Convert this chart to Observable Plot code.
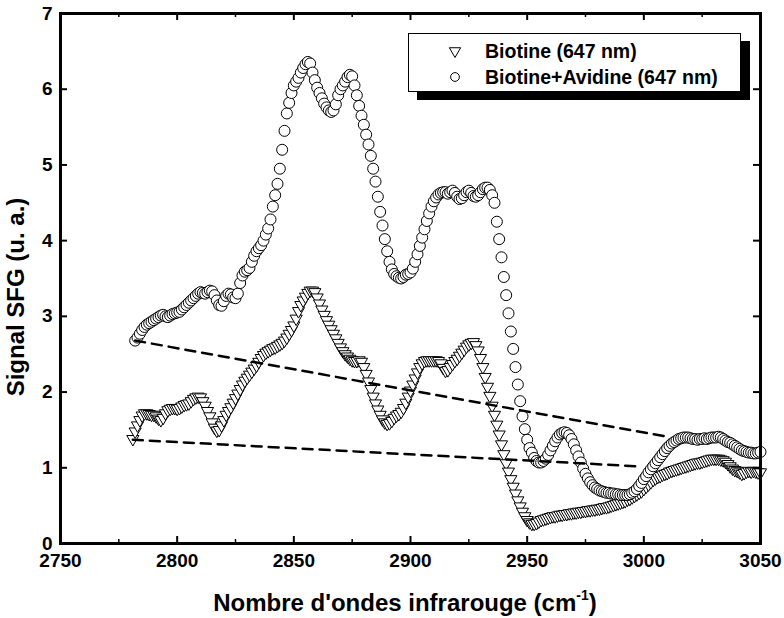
<!DOCTYPE html>
<html><head><meta charset="utf-8">
<script src="https://cdn.jsdelivr.net/npm/d3@7"></script>
<script src="https://cdn.jsdelivr.net/npm/@observablehq/plot@0.6"></script>
<style>
body{margin:0;background:#fff;}
#wrap{position:relative;width:784px;height:618px;font-family:"Liberation Sans",Arial,sans-serif;font-weight:bold;color:#000;}
#wrap svg{position:absolute;left:0;top:0;}
.abs{position:absolute;white-space:nowrap;}
#xt{left:55px;width:700px;top:591px;font-size:24px;line-height:24px;text-align:center;}
#yt{left:-134px;top:285px;width:300px;font-size:24px;line-height:24px;text-align:center;transform:rotate(-90deg);transform-origin:50% 50%;}
#legbox{left:408px;top:33px;width:333px;height:59px;box-sizing:border-box;border:1px solid #000;background:#fff;box-shadow:9px 8px 0 #000;}
.legtxt{font-size:19.5px;line-height:20px;}
</style></head><body><div id="wrap"></div><script>
// Series: wavenumber grid (cm^-1) starts, sampled every 1 cm^-1
const wnStep = 1;
const biotineStart = 2781;
const avidineStart = 2782;
const seriesNames = ["Biotine (647 nm)", "Biotine+Avidine (647 nm)"];

// Biotine (647 nm), 2781..3050
const biotineSignal = [
1.38,1.48,1.56,1.63,1.69,1.72,1.72,1.71,1.70,1.70,
1.68,1.65,1.63,1.66,1.72,1.76,1.78,1.79,1.79,1.78,
1.79,1.81,1.83,1.84,1.85,1.88,1.91,1.93,1.94,1.93,
1.88,1.82,1.75,1.68,1.60,1.53,1.49,1.50,1.56,1.63,
1.70,1.75,1.80,1.86,1.92,1.98,2.04,2.10,2.15,2.19,
2.23,2.27,2.31,2.35,2.40,2.45,2.49,2.52,2.54,2.56,
2.58,2.59,2.61,2.63,2.65,2.68,2.72,2.77,2.82,2.88,
2.97,3.07,3.15,3.21,3.26,3.31,3.34,3.34,3.32,3.25,
3.17,3.09,3.02,2.95,2.89,2.83,2.77,2.71,2.65,2.59,
2.54,2.50,2.47,2.44,2.42,2.41,2.41,2.42,2.40,2.33,
2.24,2.14,2.04,1.94,1.85,1.77,1.70,1.64,1.60,1.58,
1.59,1.62,1.66,1.69,1.71,1.74,1.79,1.86,1.94,2.02,
2.10,2.18,2.26,2.33,2.38,2.41,2.42,2.42,2.42,2.42,
2.42,2.41,2.38,2.32,2.28,2.29,2.33,2.37,2.41,2.44,
2.48,2.52,2.56,2.60,2.63,2.65,2.66,2.62,2.55,2.45,
2.33,2.20,2.07,1.95,1.82,1.70,1.57,1.44,1.31,1.18,
1.06,0.95,0.85,0.75,0.66,0.57,0.49,0.42,0.36,0.31,
0.28,0.26,0.26,0.27,0.29,0.31,0.32,0.33,0.34,0.35,
0.36,0.36,0.37,0.38,0.38,0.39,0.39,0.40,0.40,0.41,
0.41,0.42,0.42,0.43,0.43,0.44,0.44,0.45,0.45,0.46,
0.46,0.47,0.48,0.48,0.49,0.50,0.51,0.52,0.53,0.54,
0.55,0.56,0.58,0.59,0.61,0.63,0.65,0.67,0.69,0.72,
0.75,0.78,0.81,0.84,0.86,0.88,0.89,0.91,0.92,0.93,
0.95,0.96,0.97,0.98,0.99,1.00,1.01,1.02,1.03,1.04,
1.05,1.06,1.07,1.07,1.08,1.09,1.10,1.11,1.12,1.12,
1.12,1.12,1.11,1.10,1.08,1.05,1.02,0.99,0.97,0.96,
0.94,0.92,0.93,0.95,0.96,0.95,0.96,0.95,0.94,0.94
];

// Biotine+Avidine (647 nm), 2782..3050
const avidineSignal = [
2.68,2.72,2.77,2.82,2.86,2.89,2.91,2.93,2.95,2.97,
2.99,3.01,3.02,3.00,2.99,3.01,3.03,3.04,3.05,3.06,
3.09,3.12,3.15,3.18,3.21,3.24,3.27,3.30,3.32,3.31,
3.30,3.32,3.34,3.33,3.28,3.21,3.15,3.14,3.20,3.27,
3.30,3.29,3.25,3.24,3.30,3.44,3.54,3.59,3.61,3.64,
3.72,3.80,3.86,3.90,3.94,4.00,4.08,4.16,4.28,4.45,
4.60,4.75,4.95,5.20,5.45,5.68,5.82,5.95,6.05,6.10,
6.15,6.22,6.28,6.33,6.36,6.34,6.22,6.12,6.02,5.95,
5.88,5.81,5.76,5.72,5.70,5.72,5.80,5.92,6.00,6.05,
6.10,6.16,6.19,6.17,6.05,5.92,5.78,5.65,5.53,5.40,
5.27,5.12,4.95,4.78,4.58,4.38,4.20,4.02,3.86,3.72,
3.62,3.56,3.53,3.51,3.50,3.52,3.55,3.56,3.58,3.63,
3.72,3.82,3.93,4.04,4.15,4.26,4.36,4.45,4.52,4.57,
4.61,4.63,4.64,4.64,4.62,4.64,4.66,4.63,4.58,4.55,
4.56,4.60,4.64,4.66,4.63,4.59,4.58,4.60,4.64,4.68,
4.70,4.70,4.67,4.60,4.50,4.25,4.02,3.78,3.52,3.28,
3.04,2.80,2.57,2.33,2.10,1.88,1.68,1.51,1.37,1.26,
1.20,1.13,1.09,1.07,1.07,1.09,1.12,1.17,1.23,1.29,
1.35,1.40,1.44,1.46,1.47,1.46,1.43,1.38,1.31,1.23,
1.15,1.07,0.99,0.92,0.86,0.81,0.77,0.74,0.72,0.70,
0.69,0.68,0.67,0.67,0.66,0.66,0.65,0.65,0.64,0.64,
0.64,0.64,0.65,0.67,0.69,0.72,0.76,0.80,0.85,0.89,
0.94,0.98,1.02,1.06,1.10,1.14,1.18,1.22,1.26,1.29,
1.32,1.34,1.36,1.38,1.39,1.40,1.40,1.40,1.39,1.38,
1.38,1.37,1.38,1.38,1.39,1.38,1.39,1.40,1.40,1.40,
1.41,1.40,1.38,1.36,1.34,1.33,1.31,1.29,1.27,1.25,
1.23,1.22,1.21,1.20,1.20,1.19,1.19,1.20,1.21
];

// Dashed baselines (endpoints)
const upperBaseWn = [2782, 3010];
const upperBaseV = [2.68, 1.41];
const lowerBaseWn = [2781, 2997];
const lowerBaseV = [1.37, 1.02];

// Axes
const xDomain = [2750, 3050];
const yDomain = [0, 7];
const xTickLabels = [2750, 2800, 2850, 2900, 2950, 3000, 3050];
const xMinorTicks = [2775, 2825, 2875, 2925, 2975, 3025];
const yTickLabels = [0, 1, 2, 3, 4, 5, 6, 7];
const xTitle = "Nombre d'ondes infrarouge (cm";
const xTitleSup = "-1";
const yTitle = "Signal SFG (u. a.)";

const biotine = biotineSignal.map((v, i) => ({wn: biotineStart + i * wnStep, v}));
const avidine = avidineSignal.map((v, i) => ({wn: avidineStart + i * wnStep, v}));
const upperBase = upperBaseWn.map((wn, i) => ({wn, v: upperBaseV[i]}));
const lowerBase = lowerBaseWn.map((wn, i) => ({wn, v: lowerBaseV[i]}));

const H = 580, mT = 13, mB = 37, mL = 60, mR = 24;
const innerH = H - mT - mB, innerW = 784 - mL - mR;
const majorLen = 7, minorLen = 4;

const plot = Plot.plot({
  width: 784, height: H,
  marginLeft: mL, marginRight: mR, marginTop: mT, marginBottom: mB,
  x: {domain: xDomain},
  y: {domain: yDomain},
  style: {fontFamily: "'Liberation Sans', Arial, sans-serif", fontWeight: "bold", fontSize: "19px", background: "white", color: "black", overflow: "visible"},
  marks: [
    Plot.dot(biotine, {x: "wn", y: "v", symbol: "triangle", rotate: 180, r: 4.5, fill: "white", stroke: "black", strokeWidth: 1}),
    Plot.dot(avidine, {x: "wn", y: "v", symbol: "circle", r: 5.5, fill: "white", stroke: "black", strokeWidth: 1}),
    Plot.line(upperBase, {x: "wn", y: "v", stroke: "black", strokeWidth: 2.5, strokeDasharray: "10,7"}),
    Plot.line(lowerBase, {x: "wn", y: "v", stroke: "black", strokeWidth: 2.5, strokeDasharray: "10,7"}),
    // inward ticks: bottom / top
    Plot.tickX(xTickLabels, {x: d => d, insetTop: innerH - majorLen, stroke: "black", strokeWidth: 2}),
    Plot.tickX(xTickLabels, {x: d => d, insetBottom: innerH - majorLen, stroke: "black", strokeWidth: 2}),
    Plot.tickX(xMinorTicks, {x: d => d, insetTop: innerH - minorLen, stroke: "black", strokeWidth: 1.5}),
    Plot.tickX(xMinorTicks, {x: d => d, insetBottom: innerH - minorLen, stroke: "black", strokeWidth: 1.5}),
    // inward ticks: left / right
    Plot.tickY(yTickLabels, {y: d => d, insetRight: innerW - majorLen, stroke: "black", strokeWidth: 2}),
    Plot.tickY(yTickLabels, {y: d => d, insetLeft: innerW - majorLen, stroke: "black", strokeWidth: 2}),
    Plot.axisX(xTickLabels, {tickSize: 0, tickPadding: 10, label: null, tickFormat: d => String(d), fontSize: 19, fontWeight: "bold"}),
    Plot.axisY(yTickLabels, {tickSize: 0, tickPadding: 8, label: null, tickFormat: d => String(d), fontSize: 19, fontWeight: "bold"}),
    Plot.frame({stroke: "black", strokeWidth: 3})
  ]
});

const wrap = document.getElementById("wrap");
wrap.appendChild(plot);

// Axis titles
const xt = document.createElement("div");
xt.className = "abs"; xt.id = "xt";
xt.innerHTML = "";
xt.appendChild(document.createTextNode(xTitle));
const sup = document.createElement("span");
sup.textContent = xTitleSup;
sup.style.cssText = "font-size:14px;position:relative;top:-11px;";
xt.appendChild(sup);
xt.appendChild(document.createTextNode(")"));
wrap.appendChild(xt);

const yt = document.createElement("div");
yt.className = "abs"; yt.id = "yt";
yt.textContent = yTitle;
wrap.appendChild(yt);

// Legend
const legbox = document.createElement("div");
legbox.className = "abs"; legbox.id = "legbox";
wrap.appendChild(legbox);
const svgNS = "http://www.w3.org/2000/svg";
function legendRow(i, top, symbol) {
  const s = document.createElementNS(svgNS, "svg");
  s.setAttribute("width", 14); s.setAttribute("height", 14);
  s.style.cssText = `position:absolute;left:448px;top:${top - 7}px;overflow:visible;`;
  const sym = document.createElementNS(svgNS, "path");
  sym.setAttribute("d", d3.symbol(symbol, symbol === d3.symbolTriangle ? 55 : 60)());
  sym.setAttribute("transform", "translate(7,7)" + (symbol === d3.symbolTriangle ? " rotate(180)" : ""));
  sym.setAttribute("fill", "white"); sym.setAttribute("stroke", "black"); sym.setAttribute("stroke-width", "1");
  s.appendChild(sym);
  wrap.appendChild(s);
  const t = document.createElement("div");
  t.className = "abs legtxt";
  t.style.left = "485px"; t.style.top = (top - 10) + "px";
  t.textContent = seriesNames[i];
  wrap.appendChild(t);
}
legendRow(0, 51, d3.symbolTriangle);
legendRow(1, 77, d3.symbolCircle);
</script></body></html>
